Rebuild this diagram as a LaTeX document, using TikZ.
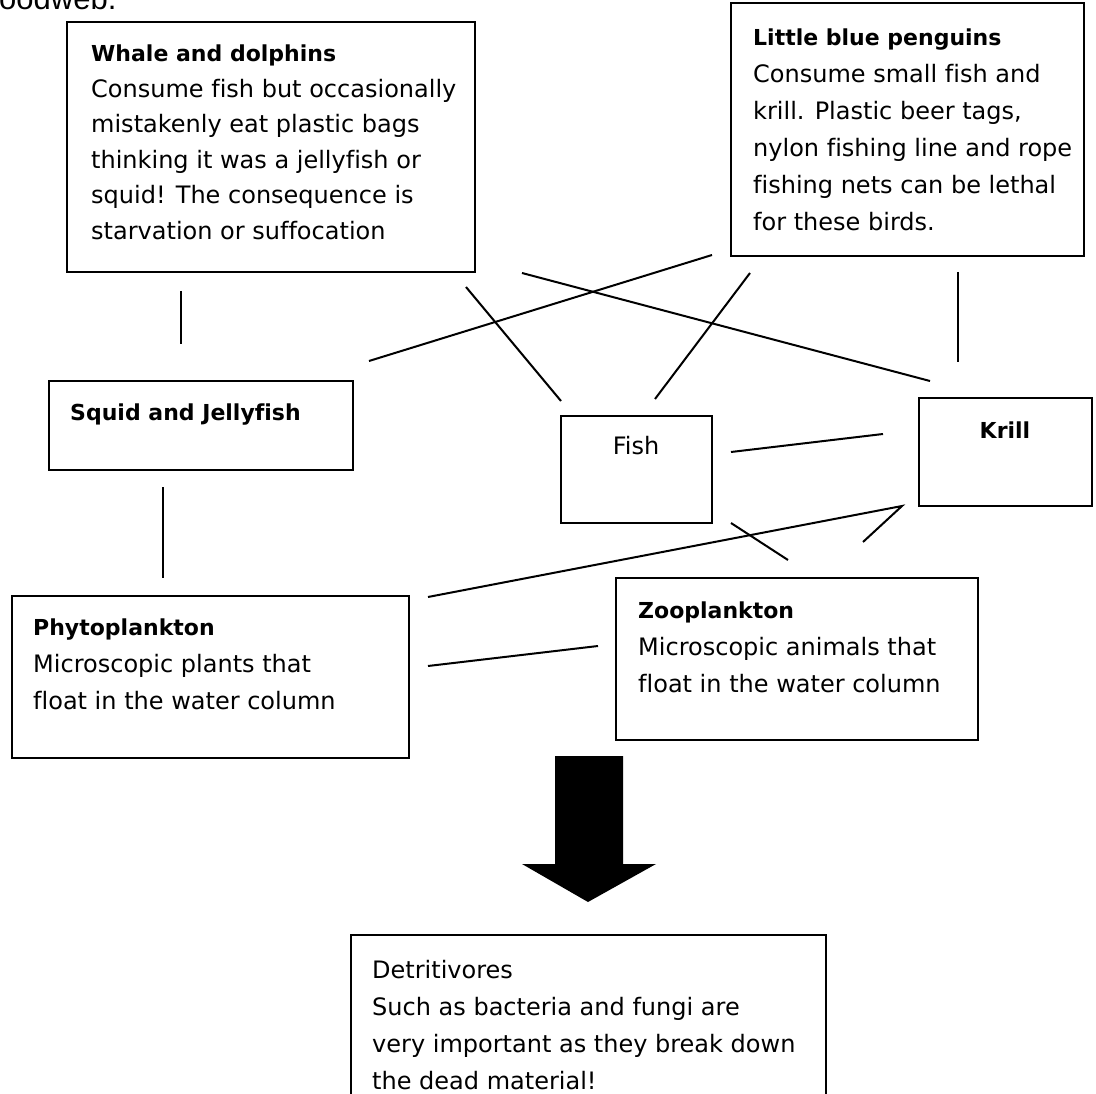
\documentclass[tikz,border=0pt]{standalone}
\usepackage{fontspec}
\setmainfont[Ligatures={NoCommon}]{DejaVu Sans}
\newfontfamily\headfont{Liberation Sans}
\newcommand{\ttl}[1]{{\fontsize{22}{37}\selectfont\bfseries #1}}
\begin{document}
\begin{tikzpicture}[x=1pt,y=-1pt,
  box/.style={draw,line width=2pt,inner sep=0pt},
  link/.style={line width=2pt},
  txt/.style={anchor=base west,inner sep=0pt,align=left,font=\fontsize{24}{37}\selectfont},
  lbl/.style={anchor=base,inner sep=0pt,font=\fontsize{24}{37}\selectfont}]
\useasboundingbox (0,0) rectangle (1096,1094);
\node[anchor=base west,inner sep=0pt,font=\headfont\fontsize{31}{36}\selectfont] (head) at (-1,10) {oodweb.};
% boxes
\draw[box] (67,22) rectangle (475,272) node[pos=0.5,inner sep=0pt] (whale) {};
\draw[box] (731,3) rectangle (1084,256) node[pos=0.5,inner sep=0pt] (peng) {};
\draw[box] (49,381) rectangle (353,470) node[pos=0.5,inner sep=0pt] (squid) {};
\draw[box] (561,416) rectangle (712,523) node[pos=0.5,inner sep=0pt] (fish) {};
\draw[box] (919,398) rectangle (1092,506) node[pos=0.5,inner sep=0pt] (krill) {};
\draw[box] (12,596) rectangle (409,758) node[pos=0.5,inner sep=0pt] (phyto) {};
\draw[box] (616,578) rectangle (978,740) node[pos=0.5,inner sep=0pt] (zoo) {};
\draw[box] (351,935) rectangle (826,1120) node[pos=0.5,inner sep=0pt] (detri) {};
% texts (anchor = baseline of the last line)
\node[txt,font=\fontsize{24}{35.5}\selectfont] (whaletxt) at (91,239.5) {\ttl{Whale and dolphins}\\Consume fish but occasionally\\mistakenly eat plastic bags\\thinking it was a jellyfish or\\squid! The consequence is\\starvation or suffocation};
\node[txt] (pengtxt) at (753,231) {\ttl{Little blue penguins}\\Consume small fish and\\krill. Plastic beer tags,\\nylon fishing line and rope\\fishing nets can be lethal\\for these birds.};
\node[txt] (squidtxt) at (70,420) {\ttl{Squid and Jellyfish}};
\node[lbl] (fishtxt) at (636,454) {Fish};
\node[lbl] (krilltxt) at (1005,438) {\ttl{Krill}};
\node[txt] (phytotxt) at (33,709) {\ttl{Phytoplankton}\\Microscopic plants that\\float in the water column};
\node[txt] (zootxt) at (638,692) {\ttl{Zooplankton}\\Microscopic animals that\\float in the water column};
\node[txt] (detritxt) at (372,1089) {Detritivores\\Such as bacteria and fungi are\\very important as they break down\\the dead material!};
% connector end points
\coordinate (w1) at (181,291); \coordinate (s1) at (181,344);
\coordinate (w2) at (466,287); \coordinate (f1) at (561,401);
\coordinate (w3) at (522,273); \coordinate (k1) at (930,381);
\coordinate (s2) at (369,361); \coordinate (p1) at (712,255);
\coordinate (p2) at (750,273); \coordinate (f2) at (655,399);
\coordinate (p3) at (958,272); \coordinate (k2) at (958,362);
\coordinate (f3) at (731,452); \coordinate (k3) at (883,434);
\coordinate (s3) at (163,487); \coordinate (ph1) at (163,578);
\coordinate (ph2) at (428,597); \coordinate (k4) at (902,506);
\coordinate (z1) at (863,542);
\coordinate (f4) at (731,523); \coordinate (z2) at (788,560);
\coordinate (ph3) at (428,666); \coordinate (z3) at (598,646);
\draw[link] (w1) -- (s1);
\draw[link] (w2) -- (f1);
\draw[link] (w3) -- (k1);
\draw[link] (s2) -- (p1);
\draw[link] (p2) -- (f2);
\draw[link] (p3) -- (k2);
\draw[link] (f3) -- (k3);
\draw[link] (s3) -- (ph1);
\draw[link] (ph2) -- (k4) -- (z1);
\draw[link] (f4) -- (z2);
\draw[link] (ph3) -- (z3);
% big arrow
\fill (555,756) -- (623,756) -- (623,864) -- (656,864) -- (588,902) -- (522,864) -- (555,864) -- cycle;
\end{tikzpicture}
\end{document}
